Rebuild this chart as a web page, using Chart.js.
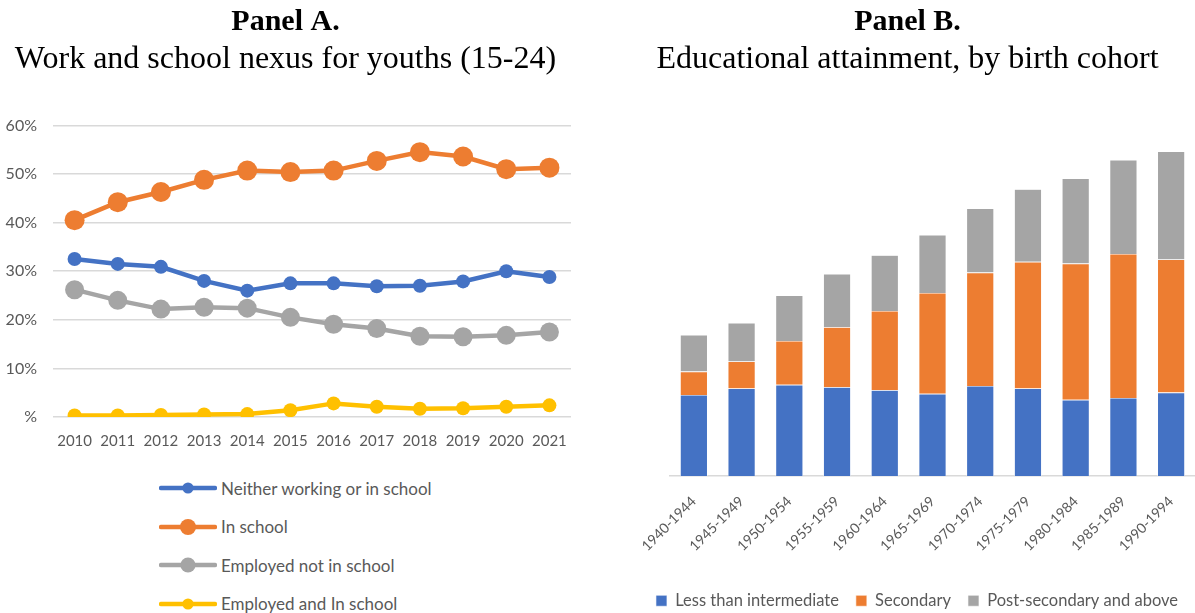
<!DOCTYPE html>
<html>
<head>
<meta charset="utf-8">
<script src="https://cdn.jsdelivr.net/npm/chart.js@4.4.0/dist/chart.umd.min.js"></script>
<style>
  body { margin: 0; background: #fff; width: 1195px; height: 613px; position: relative; overflow: hidden; }
  #boxA { position: absolute; left: 0; top: 0; width: 576px; height: 457px; }
  #boxB { position: absolute; left: 606px; top: 0; width: 589px; height: 619px; }
  #legendA { position: absolute; left: 159px; top: 476px; font-family: Lato, sans-serif; font-size: 17px; color: #595959; }
  #legendA div { display: flex; align-items: center; height: 24px; margin-bottom: 14.5px; }
  #legendA svg { margin-right: 4px; }
</style>
</head>
<body>
<div id="boxA"><canvas id="chartA"></canvas></div>
<div id="legendA"></div>
<div id="boxB"><canvas id="chartB"></canvas></div>
<script>
// Panel A data (shares, %)
const years = ['2010','2011','2012','2013','2014','2015','2016','2017','2018','2019','2020','2021'];
const neither = [32.5, 31.5, 30.9, 28.0, 26.0, 27.5, 27.5, 26.9, 27.0, 27.9, 30.0, 28.8];
const inSchool = [40.5, 44.2, 46.3, 48.8, 50.7, 50.4, 50.7, 52.7, 54.5, 53.6, 51.0, 51.3];
const employedNotSchool = [26.2, 24.0, 22.2, 22.6, 22.4, 20.5, 19.1, 18.2, 16.6, 16.5, 16.8, 17.5];
const employedAndSchool = [0.3, 0.3, 0.4, 0.5, 0.6, 1.4, 2.8, 2.1, 1.7, 1.8, 2.1, 2.4];

// Panel B data (estimated, %)
const cohorts = ['1940-1944','1945-1949','1950-1954','1955-1959','1960-1964','1965-1969','1970-1974','1975-1979','1980-1984','1985-1989','1990-1994'];
const lessThanIntermediate = [13.5, 14.6, 15.2, 14.8, 14.3, 13.7, 15.0, 14.6, 12.7, 13.0, 13.9];
const secondary = [3.9, 4.5, 7.3, 10.0, 13.2, 16.8, 18.9, 21.1, 22.7, 24.0, 22.2];
const postSecondary = [6.1, 6.4, 7.6, 8.9, 9.3, 9.7, 10.7, 12.1, 14.2, 15.7, 18.0];

const BLUE = '#4472C4', ORANGE = '#ED7D31', GRAY = '#A5A5A5', YELLOW = '#FFC000';
const tickFont = { family: 'Lato, sans-serif', size: 15 };
const titleFont = { family: '"Liberation Serif", "Times New Roman", serif', size: 30, weight: 'bold' };
const subFont = { family: '"Liberation Serif", "Times New Roman", serif', size: 32 };

function lineSet(label, data, color, r) {
  return {
    label, data,
    borderColor: color, backgroundColor: color,
    borderWidth: 4.5, pointRadius: r, pointHoverRadius: r,
    pointBorderWidth: 0, tension: 0
  };
}

const chartA = new Chart(document.getElementById('chartA'), {
  type: 'line',
  data: {
    labels: years,
    datasets: [
      lineSet('Neither working or in school', neither, BLUE, 7),
      lineSet('In school', inSchool, ORANGE, 10),
      lineSet('Employed not in school', employedNotSchool, GRAY, 9.5),
      lineSet('Employed and In school', employedAndSchool, YELLOW, 7)
    ]
  },
  options: {
    responsive: true, maintainAspectRatio: false, animation: false,
    layout: { autoPadding: false, padding: { left: 0, right: 5, top: 0, bottom: 0 } },
    plugins: {
      legend: { display: false },
      tooltip: { enabled: false },
      title: { display: true, text: 'Panel A.', color: '#000', font: titleFont, padding: { top: 4, bottom: 0 } },
      subtitle: { display: true, text: 'Work and school nexus for youths (15-24)', color: '#000', font: subFont, padding: { top: 0, bottom: 47 } }
    },
    scales: {
      x: {
        offset: true,
        grid: { display: false },
        border: { display: false },
        ticks: { color: '#595959', font: tickFont, maxRotation: 0, padding: 7 }
      },
      y: {
        min: 0, max: 60,
        ticks: { stepSize: 10, color: '#595959', font: { family: 'Lato, sans-serif', size: 16 }, padding: 16,
          callback: v => v === 0 ? '%' : v + '%' },
        grid: { color: '#D9D9D9', lineWidth: 1.5, drawTicks: false },
        border: { display: false },
        afterFit: scale => { scale.width = 53; }
      }
    }
  }
});

// HTML legend built from the chart's datasets
const legendA = document.getElementById('legendA');
chartA.data.datasets.forEach(ds => {
  const row = document.createElement('div');
  const r = ds.pointRadius * 0.8;
  row.innerHTML = '<svg width="58" height="24"><line x1="2" y1="12" x2="56" y2="12" stroke="' + ds.borderColor +
    '" stroke-width="4.5" stroke-linecap="round"/><circle cx="29" cy="12" r="' + r + '" fill="' + ds.borderColor + '"/></svg>' +
    '<span>' + ds.label + '</span>';
  legendA.appendChild(row);
});

new Chart(document.getElementById('chartB'), {
  type: 'bar',
  data: {
    labels: cohorts,
    datasets: [
      { label: 'Less than intermediate', data: lessThanIntermediate, backgroundColor: BLUE },
      { label: 'Secondary', data: secondary, backgroundColor: ORANGE },
      { label: 'Post-secondary and above', data: postSecondary, backgroundColor: GRAY }
    ]
  },
  options: {
    responsive: true, maintainAspectRatio: false, animation: false,
    datasets: { bar: { categoryPercentage: 0.575, barPercentage: 1, borderColor: '#ffffff', borderWidth: 0.6 } },
    layout: { padding: { left: 14, right: 0, top: 0, bottom: 0 } },
    plugins: {
      tooltip: { enabled: false },
      title: { display: true, text: 'Panel B.', color: '#000', font: titleFont, padding: { top: 4, bottom: 0 } },
      subtitle: { display: true, text: 'Educational attainment, by birth cohort', color: '#000', font: subFont, padding: { top: 0, bottom: 37.6 } },
      legend: {
        position: 'bottom', align: 'end',
        labels: { color: '#595959', font: { family: 'Lato, sans-serif', size: 16.5 }, boxWidth: 11, boxHeight: 11, padding: 17 }
      }
    },
    scales: {
      x: {
        stacked: true,
        grid: { display: false },
        border: { display: true, color: '#D9D9D9', width: 1.5 },
        ticks: { color: '#595959', font: { family: 'Lato, sans-serif', size: 14 }, minRotation: 45, maxRotation: 45, padding: 9 },
        afterFit: scale => { scale.height += 12; }
      },
      y: {
        stacked: true, min: 0, max: 60,
        ticks: { display: false },
        grid: { display: false },
        border: { display: false },
        afterFit: scale => { scale.width = 50; }
      }
    }
  }
});
</script>
</body>
</html>
